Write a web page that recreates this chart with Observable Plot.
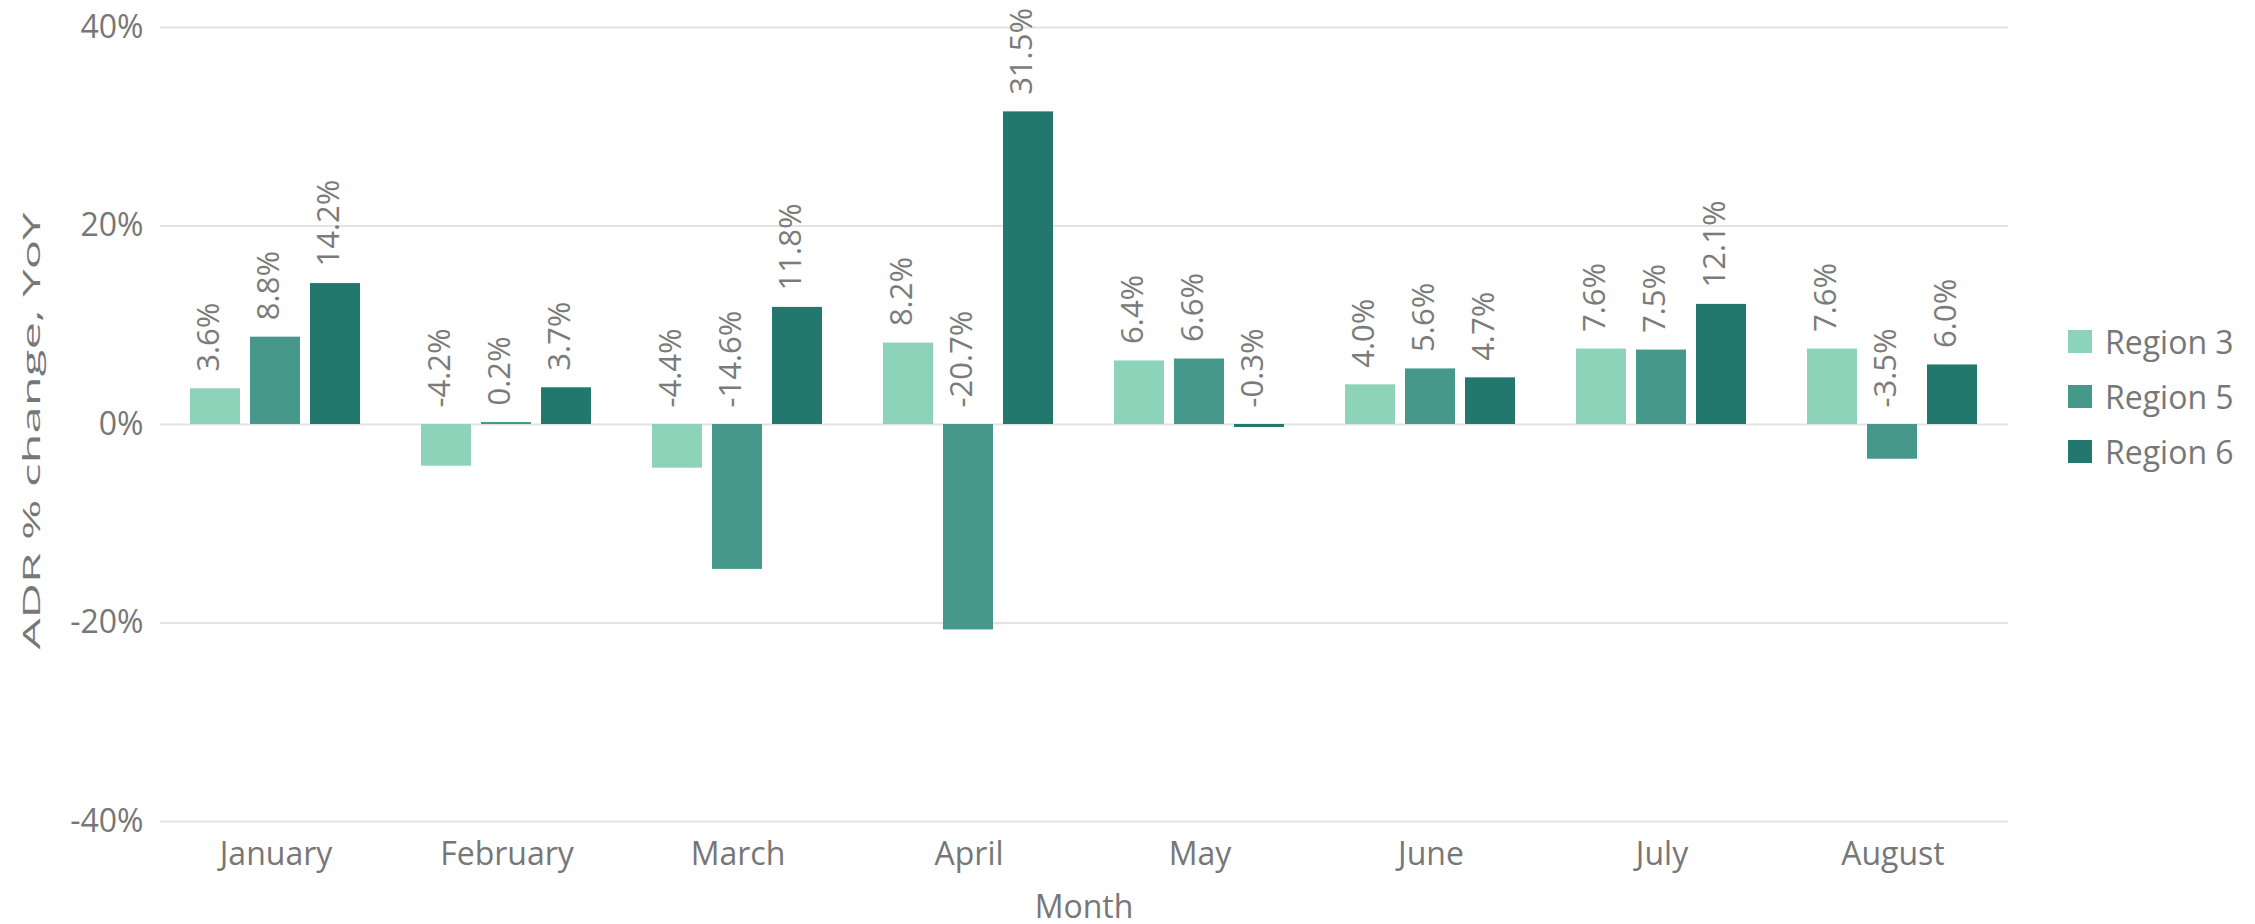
<!DOCTYPE html>
<html>
<head>
<meta charset="utf-8">
<script src="https://cdn.jsdelivr.net/npm/d3@7"></script>
<script src="https://cdn.jsdelivr.net/npm/@observablehq/plot@0.6"></script>
<style>
  html, body { margin: 0; padding: 0; background: #ffffff; }
  #wrap { position: relative; width: 2255px; height: 924px; font-family: 'Open Sans', sans-serif; }
  #chart { position: absolute; left: 0; top: 0; }
  #legend { position: absolute; left: 2068px; top: 330px; color: #777; font-size: 32px; }
  .row { display: flex; align-items: center; height: 23px; margin-bottom: 32px; }
  .sw { width: 24px; height: 23px; margin-right: 13px; }
  .lab { line-height: 1; white-space: nowrap; }
</style>
</head>
<body>
<div id="wrap">
  <div id="chart"></div>
  <div id="legend"></div>
</div>
<script>
const months = ["January", "February", "March", "April", "May", "June", "July", "August"];
const regions = ["Region 3", "Region 5", "Region 6"];
const region3 = [3.6, -4.2, -4.4, 8.2, 6.4, 4.0, 7.6, 7.6];
const region5 = [8.8, 0.2, -14.6, -20.7, 6.6, 5.6, 7.5, -3.5];
const region6 = [14.2, 3.7, 11.8, 31.5, -0.3, 4.7, 12.1, 6.0];
const yTicks = [-40, -20, 0, 20, 40];
const colors = ["#8cd3b9", "#46998a", "#23786e"];
const yTitle = "ADR % change, YoY";
const xTitle = "Month";

const series = [region3, region5, region6];
const data = [];
months.forEach((m, i) => {
  regions.forEach((r, j) => {
    data.push({month: m, region: r, value: series[j][i]});
  });
});

const chart = Plot.plot({
  width: 2055,
  height: 924,
  marginLeft: 160,
  marginRight: 47,
  marginTop: 27,
  marginBottom: 103,
  style: {fontFamily: "'Open Sans', sans-serif", fontSize: "32px", color: "#777", background: "white", overflow: "visible"},
  fx: {domain: months, padding: 0, axis: "bottom", tickSize: 0, tickPadding: 21, label: null},
  x: {domain: regions, axis: null, paddingInner: 0.164, paddingOuter: 0.476},
  y: {domain: [-40, 40], ticks: yTicks, tickFormat: d => String(d) + "%", tickSize: 0, tickPadding: 17, label: null},
  color: {domain: regions, range: colors},
  marks: [
    Plot.ruleY(yTicks, {stroke: "#e3e3e3", strokeWidth: 2}),
    Plot.barY(data, {fx: "month", x: "region", y: "value", fill: "region"}),
    Plot.text(data, {
      fx: "month", x: "region",
      y: d => Math.max(0, d.value),
      text: d => d.value.toFixed(1) + "%",
      rotate: -90, textAnchor: "start", dx: -6, dy: -17,
      fontSize: 31, fill: "#7b7b7b"
    })
  ]
});

const svg = d3.select(chart);
svg.append("text")
  .attr("transform", "translate(40,431) rotate(-90)")
  .attr("text-anchor", "middle")
  .attr("font-size", 24)
  .attr("fill", "#777")
  .attr("textLength", 437)
  .attr("lengthAdjust", "spacingAndGlyphs")
  .text(yTitle);
svg.append("text")
  .attr("x", 1084)
  .attr("y", 918)
  .attr("text-anchor", "middle")
  .attr("font-size", 32)
  .attr("fill", "#777")
  .text(xTitle);

document.getElementById("chart").appendChild(chart);

const legend = document.getElementById("legend");
regions.forEach((r, i) => {
  const row = document.createElement("div");
  row.className = "row";
  const sw = document.createElement("div");
  sw.className = "sw";
  sw.style.background = colors[i];
  const lab = document.createElement("span");
  lab.className = "lab";
  lab.textContent = r;
  row.appendChild(sw);
  row.appendChild(lab);
  legend.appendChild(row);
});
</script>
</body>
</html>
